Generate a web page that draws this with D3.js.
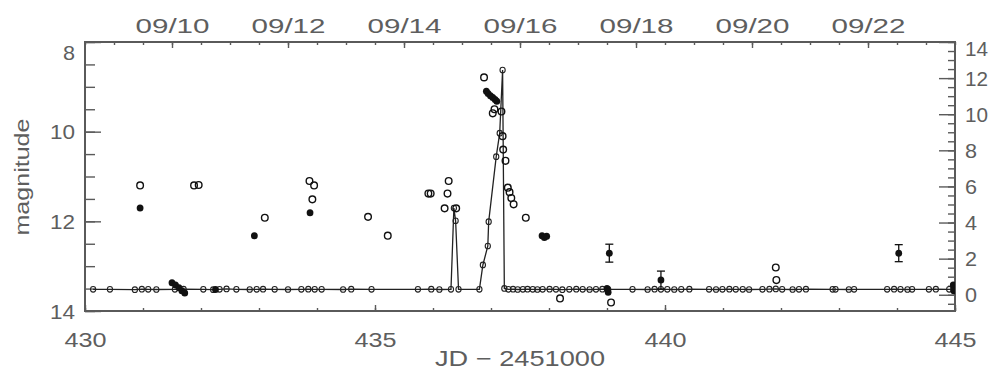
<!DOCTYPE html>
<html><head><meta charset="utf-8">
<script src="https://cdn.jsdelivr.net/npm/d3@7"></script>
<style>
body{margin:0;background:#fff;}
svg{display:block;}
</style></head><body>
<svg id="c" width="990" height="376"></svg>
<script>
// ---------------- data ----------------
const jdDomain = [430, 445];
const magDomain = [8, 14];
const fluxDomain = [-0.9, 14];

const bottomTicks = [430, 435, 440, 445];
const bottomMinor = d3.range(430, 445.01, 1);
const topTickJD = [431.5, 433.5, 435.5, 437.5, 439.5, 441.5, 443.5];
const topTickLabels = ["09/10", "09/12", "09/14", "09/16", "09/18", "09/20", "09/22"];
const topMinor = d3.range(430, 445.01, 0.5);
const leftTicks = [8, 10, 12, 14];
const leftMinor = d3.range(8, 14.01, 0.5);
const rightTicks = [0, 2, 4, 6, 8, 10, 12, 14];
const rightMinor = d3.range(-0.5, 14.01, 0.5);

// X-ray flux (right axis), line with small symbols
const xrayJD = [430.14,430.43,430.86,430.98,431.09,431.23,431.55,431.70,432.04,432.21,432.32,432.44,432.61,432.84,432.96,433.07,433.27,433.50,433.73,433.85,433.96,434.08,434.45,434.59,434.94,435.74,435.97,436.11,436.31,436.36,436.39,436.44,436.80,436.86,436.945,436.96,437.09,437.15,437.20,437.23,437.30,437.38,437.46,437.55,437.63,437.72,437.80,437.89,438.01,438.12,438.23,438.35,438.47,438.58,438.70,438.81,438.92,439.02,439.44,439.70,439.82,439.93,440.04,440.16,440.28,440.42,440.76,440.88,440.99,441.11,441.22,441.34,441.45,441.68,441.80,441.91,442.02,442.20,442.31,442.43,442.89,442.94,443.17,443.26,443.83,443.95,444.06,444.18,444.26,444.55,444.67,444.90,444.97];
const xrayFlux = [0.30,0.30,0.28,0.31,0.30,0.29,0.30,0.31,0.30,0.28,0.30,0.32,0.30,0.29,0.30,0.31,0.30,0.29,0.30,0.31,0.30,0.30,0.29,0.31,0.30,0.30,0.31,0.29,0.30,4.80,4.10,0.30,0.30,1.65,2.70,4.05,7.65,8.95,12.45,0.35,0.30,0.31,0.29,0.30,0.31,0.30,0.29,0.30,0.31,0.30,0.28,0.30,0.31,0.30,0.29,0.30,0.31,0.30,0.30,0.29,0.31,0.30,0.30,0.29,0.30,0.31,0.30,0.29,0.30,0.31,0.30,0.30,0.29,0.30,0.31,0.32,0.30,0.29,0.30,0.31,0.30,0.30,0.29,0.30,0.30,0.31,0.30,0.29,0.30,0.30,0.31,0.30,0.32];

// optical magnitudes (left axis), open symbols
const openJD = [430.95,431.88,431.96,433.10,433.87,433.95,433.92,434.88,435.22,435.92,435.96,436.25,436.27,436.20,436.40,436.88,437.03,437.06,437.18,437.20,437.21,437.25,437.29,437.32,437.35,437.39,437.60,438.19,439.07,441.91,441.92];
const openMag = [11.20,11.20,11.19,11.92,11.10,11.20,11.51,11.90,12.32,11.38,11.38,11.38,11.10,11.71,11.71,8.79,9.59,9.50,9.55,10.10,10.40,10.65,11.25,11.35,11.48,11.62,11.92,13.72,13.81,13.03,13.31];

// optical magnitudes, filled symbols
const filledJD = [430.95,432.92,433.88,436.92,436.95,436.99,437.03,437.07,437.10,437.88,437.92,437.96,431.50,431.56,431.62,431.67,431.72,432.25,439.00,439.02,444.97,444.98];
const filledMag = [11.70,12.32,11.81,9.10,9.15,9.20,9.24,9.28,9.32,12.32,12.36,12.33,13.37,13.42,13.48,13.55,13.60,13.52,13.50,13.58,13.42,13.55];

// filled symbols with error bars
const errJD = [439.04, 439.93, 444.03];
const errMag = [12.71, 13.31, 12.71];
const errSize = [0.20, 0.20, 0.19];

// ---------------- drawing ----------------
const svg = d3.select("#c");
const L = 85, R = 955, T = 42, B = 311;
const FONT = '"Liberation Sans", Arial, sans-serif';
const TXT = "#5e5e5e", AX = "#5a5a5a";

const x = d3.scaleLinear().domain(jdDomain).range([L, R]);
const yMag = d3.scaleLinear().domain(magDomain).range([T, B]);
const yFlux = d3.scaleLinear().domain(fluxDomain).range([B, T]);

svg.append("rect").attr("width", 990).attr("height", 376).attr("fill", "#fff");

function styleAxis(g) {
  g.attr("font-family", FONT).attr("font-size", 20).attr("color", TXT);
  g.select(".domain").remove();
  g.selectAll(".tick line").attr("stroke", AX).attr("stroke-width", 1.4);
  g.selectAll(".tick text").attr("fill", TXT);
}

// clip for data
svg.append("clipPath").attr("id", "clip").append("rect")
  .attr("x", L).attr("y", T).attr("width", R - L).attr("height", B - T);

// bottom
svg.append("g").attr("transform", `translate(0,${B})`)
  .call(d3.axisBottom(x).tickValues(bottomMinor).tickSize(-3).tickFormat("")).call(styleAxis);
const gb = svg.append("g").attr("transform", `translate(0,${B})`)
  .call(d3.axisBottom(x).tickValues(bottomTicks).tickSize(-6).tickFormat(d3.format("d")));
gb.call(styleAxis);
gb.selectAll(".tick text").attr("y", 36).attr("dy", null)
  .attr("textLength", 42).attr("lengthAdjust", "spacingAndGlyphs");

// top
svg.append("g").attr("transform", `translate(0,${T})`)
  .call(d3.axisTop(x).tickValues(topMinor).tickSize(-3).tickFormat("")).call(styleAxis);
const gt = svg.append("g").attr("transform", `translate(0,${T})`)
  .call(d3.axisTop(x).tickValues(topTickJD).tickSize(-6)
    .tickFormat((d, i) => topTickLabels[i]));
gt.call(styleAxis);
gt.selectAll(".tick text").attr("y", -9).attr("dy", null)
  .attr("textLength", 74).attr("lengthAdjust", "spacingAndGlyphs");

// left
svg.append("g").attr("transform", `translate(${L},0)`)
  .call(d3.axisLeft(yMag).tickValues(leftMinor).tickSize(-10).tickFormat("")).call(styleAxis);
const gl = svg.append("g").attr("transform", `translate(${L},0)`)
  .call(d3.axisLeft(yMag).tickValues(leftTicks).tickSize(-16).tickPadding(10).tickFormat(d3.format("d")));
gl.call(styleAxis);
gl.selectAll(".tick text")
  .attr("textLength", d => String(d).length === 1 ? 12 : 25).attr("lengthAdjust", "spacingAndGlyphs")
  .attr("dy", d => d === 8 ? "0.85em" : "0.36em");

// right
svg.append("g").attr("transform", `translate(${R},0)`)
  .call(d3.axisRight(yFlux).tickValues(rightMinor).tickSize(-7).tickFormat("")).call(styleAxis);
const gr = svg.append("g").attr("transform", `translate(${R},0)`)
  .call(d3.axisRight(yFlux).tickValues(rightTicks).tickSize(-16).tickPadding(10).tickFormat(d3.format("d")));
gr.call(styleAxis);
gr.selectAll(".tick text")
  .attr("textLength", d => String(d).length === 1 ? 12 : 23).attr("lengthAdjust", "spacingAndGlyphs")
  .attr("dy", d => d === 14 ? "0.65em" : "0.36em");

// frame
svg.append("rect").attr("x", L).attr("y", T).attr("width", R - L).attr("height", B - T)
  .attr("fill", "none").attr("stroke", AX).attr("stroke-width", 2);

// axis titles
svg.append("text").attr("x", 520).attr("y", 366).attr("text-anchor", "middle")
  .attr("font-family", FONT).attr("font-size", 22).attr("fill", TXT)
  .attr("textLength", 170).attr("lengthAdjust", "spacingAndGlyphs")
  .text("JD \u2212 2451000");
svg.append("text").attr("transform", "translate(29,177) rotate(-90)").attr("text-anchor", "middle")
  .attr("font-family", FONT).attr("font-size", 21).attr("fill", TXT)
  .attr("textLength", 117).attr("lengthAdjust", "spacingAndGlyphs")
  .text("magnitude");

// data layer
const dg = svg.append("g").attr("clip-path", "url(#clip)");

const xray = xrayJD.map((d, i) => ({ jd: d, f: xrayFlux[i] }));
const line = d3.line().x(d => x(d.jd)).y(d => yFlux(d.f));
dg.append("path").datum(xray).attr("d", line)
  .attr("fill", "none").attr("stroke", "#222").attr("stroke-width", 1.3);
dg.selectAll(".xs").data(xray).join("ellipse").attr("class", "xs")
  .attr("cx", d => x(d.jd)).attr("cy", d => yFlux(d.f))
  .attr("rx", 2.6).attr("ry", 2.8)
  .attr("fill", "none").attr("stroke", "#222").attr("stroke-width", 1.1);

const opens = openJD.map((d, i) => ({ jd: d, m: openMag[i] }));
dg.selectAll(".op").data(opens).join("ellipse").attr("class", "op")
  .attr("cx", d => x(d.jd)).attr("cy", d => yMag(d.m))
  .attr("rx", 3.3).attr("ry", 3.4)
  .attr("fill", "none").attr("stroke", "#111").attr("stroke-width", 1.4);

const fills = filledJD.map((d, i) => ({ jd: d, m: filledMag[i] }));
dg.selectAll(".fp").data(fills).join("ellipse").attr("class", "fp")
  .attr("cx", d => x(d.jd)).attr("cy", d => yMag(d.m))
  .attr("rx", 3.4).attr("ry", 3.5).attr("fill", "#111");

const errs = errJD.map((d, i) => ({ jd: d, m: errMag[i], e: errSize[i] }));
const eg = dg.selectAll(".eb").data(errs).join("g").attr("class", "eb");
eg.append("line").attr("x1", d => x(d.jd)).attr("x2", d => x(d.jd))
  .attr("y1", d => yMag(d.m - d.e)).attr("y2", d => yMag(d.m + d.e))
  .attr("stroke", "#111").attr("stroke-width", 1.3);
eg.append("line").attr("x1", d => x(d.jd) - 4).attr("x2", d => x(d.jd) + 4)
  .attr("y1", d => yMag(d.m - d.e)).attr("y2", d => yMag(d.m - d.e))
  .attr("stroke", "#111").attr("stroke-width", 1.3);
eg.append("line").attr("x1", d => x(d.jd) - 4).attr("x2", d => x(d.jd) + 4)
  .attr("y1", d => yMag(d.m + d.e)).attr("y2", d => yMag(d.m + d.e))
  .attr("stroke", "#111").attr("stroke-width", 1.3);
eg.append("ellipse").attr("cx", d => x(d.jd)).attr("cy", d => yMag(d.m))
  .attr("rx", 3.4).attr("ry", 3.5).attr("fill", "#111");
</script>
</body></html>
